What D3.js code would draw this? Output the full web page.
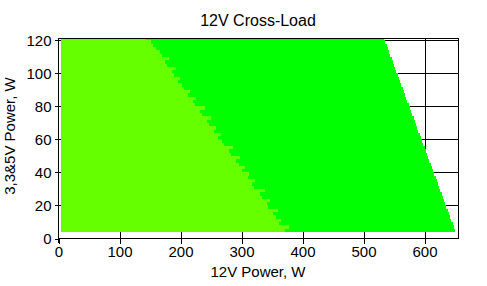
<!DOCTYPE html>
<html><head><meta charset="utf-8">
<script src="https://cdn.jsdelivr.net/npm/d3@7"></script>
<style>
html,body{margin:0;padding:0;background:#fff;}
text{font-family:"Liberation Sans",Arial,sans-serif;fill:#000;}
</style></head>
<body>
<svg id="c" width="487" height="286"></svg>
<script>
// Rows of the cross-load map (3.3V&5V load, W), bottom edge of each row
const rowY = [4,6,8,10,12,14,16,18,20,22,24,26,28,30,32,34,36,38,40,42,44,46,48,50,52,54,56,58,60,62,64,66,68,70,72,74,76,78,80,82,84,86,88,90,92,94,96,98,100,102,104,106,108,110,112,114,116,118,120];
// 12V load where the light-green zone ends in each row
const lightEnd = [371,378,362,365,356,352,360,344,341,346,334,330,338,320,317,322,310,312,301,306,296,291,298,283,280,286,271,268,262,266,255,258,247,243,250,236,232,240,224,220,226,213,216,206,202,196,199,190,186,192,178,175,181,169,166,160,155,152,143];
// 12V load where the bright-green zone ends in each row
const greenEnd = [650,648,646,644,642,640,638,636,634,632,630,628,626,624,622,620,618,616,614,612,610,608,606,604,602,600,598,596,594,592,590,588,586,584,582,580,578,576,574,572,570,568,566,564,562,560,558,556,554,552,550,548,546,544,542,540,538,536,534];
const loadStart = 4.5;
const rowStep = 2;
const xTicks = [0,100,200,300,400,500,600];
const yTicks = [0,20,40,60,80,100,120];
const xMax = 655.7, yMax = 121.2;

const svg = d3.select("#c");
const x = d3.scaleLinear().domain([0, xMax]).range([58.5, 458.5]);
const y = d3.scaleLinear().domain([0, yMax]).range([238.5, 38.5]);

// grid
const g = svg.append("g").attr("stroke", "#000").attr("stroke-width", 1).attr("shape-rendering", "crispEdges");
g.selectAll(".vg").data(xTicks.slice(1)).join("line")
  .attr("x1", d => Math.round(x(d)) + 0.5).attr("x2", d => Math.round(x(d)) + 0.5)
  .attr("y1", y(yMax)).attr("y2", y(0));
g.selectAll(".hg").data(yTicks.slice(1)).join("line")
  .attr("x1", x(0)).attr("x2", x(xMax))
  .attr("y1", d => Math.round(y(d)) + 0.5).attr("y2", d => Math.round(y(d)) + 0.5);
g.append("line").attr("x1", x(0)).attr("x2", x(xMax)).attr("y1", 38.5).attr("y2", 38.5);
g.append("line").attr("x1", x(xMax)).attr("x2", x(xMax)).attr("y1", 38.5).attr("y2", y(0));

// cells
const rows = rowY.map((v, i) => ({y0: v, y1: Math.min(v + rowStep, yMax), l: lightEnd[i], r: greenEnd[i]}));
const cells = svg.append("g").attr("shape-rendering", "crispEdges");
cells.selectAll(".bg").data(rows).join("rect")
  .attr("x", d => x(d.l)).attr("width", d => x(d.r) - x(d.l))
  .attr("y", d => y(d.y1)).attr("height", d => y(d.y0) - y(d.y1))
  .attr("fill", "#00ff00");
cells.selectAll(".lg").data(rows).join("rect")
  .attr("x", x(loadStart)).attr("width", d => x(d.l) - x(loadStart))
  .attr("y", d => y(d.y1)).attr("height", d => y(d.y0) - y(d.y1))
  .attr("fill", "#66ff00");

// axes
const xa = svg.append("g").attr("transform", "translate(0,238.5)")
  .call(d3.axisBottom(x).tickValues(xTicks).tickSize(5).tickPadding(3).tickFormat(d3.format("d")));
const ya = svg.append("g").attr("transform", "translate(58.5,0)")
  .call(d3.axisLeft(y).tickValues(yTicks).tickSize(4).tickPadding(3).tickFormat(d3.format("d")));
[xa, ya].forEach(a => {
  a.select(".domain").attr("d", null);
  a.selectAll("line").attr("stroke", "#000").attr("shape-rendering", "crispEdges");
  a.selectAll("text").style("font-size", "15px").attr("font-family", null);
});
svg.append("line").attr("x1", 58.5).attr("x2", 58.5).attr("y1", 38).attr("y2", 243)
  .attr("stroke", "#000").attr("shape-rendering", "crispEdges");
svg.append("line").attr("x1", 58).attr("x2", 459).attr("y1", 238.5).attr("y2", 238.5)
  .attr("stroke", "#000").attr("shape-rendering", "crispEdges");

// titles
svg.append("text").attr("x", 258).attr("y", 26).attr("text-anchor", "middle").style("font-size", "16px").text("12V Cross-Load");
svg.append("text").attr("x", 258).attr("y", 277).attr("text-anchor", "middle").style("font-size", "15px").text("12V Power, W");
svg.append("text").attr("transform", "translate(15,136) rotate(-90)").attr("text-anchor", "middle").style("font-size", "15px").text("3,3&5V Power, W");
</script>
</body></html>
